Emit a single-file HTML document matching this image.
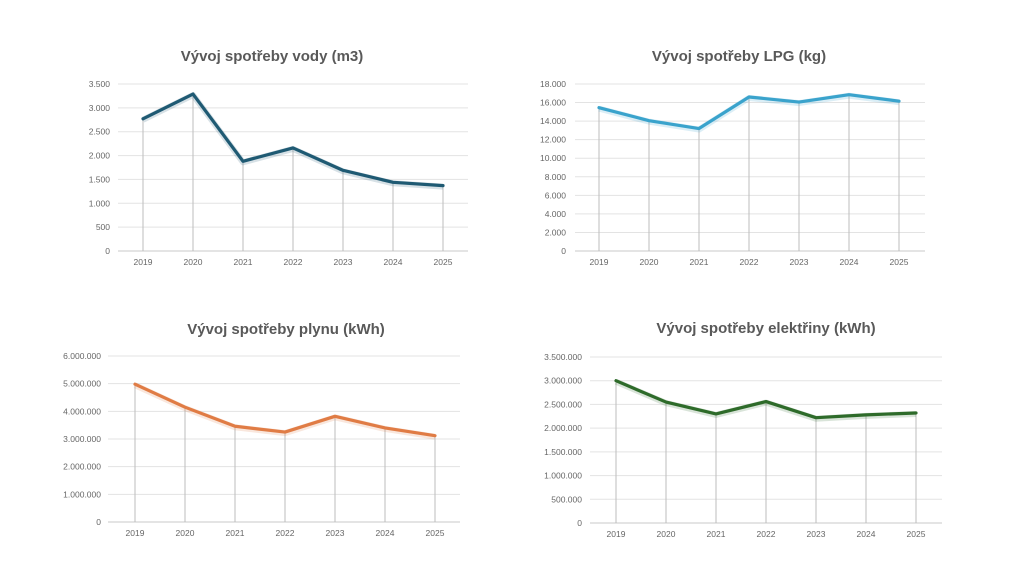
<!DOCTYPE html>
<html><head><meta charset="utf-8"><style>
html,body{margin:0;padding:0;background:#fff;}
svg{display:block;}
text{font-family:"Liberation Sans",sans-serif;}
</style></head><body>
<svg id="s" width="1024" height="576" xmlns="http://www.w3.org/2000/svg">
<text x="272" y="61" text-anchor="middle" font-size="15" font-weight="bold" fill="#595959">Vývoj spotřeby vody (m3)</text>
<text x="739" y="61" text-anchor="middle" font-size="15" font-weight="bold" fill="#595959">Vývoj spotřeby LPG (kg)</text>
<text x="286" y="334" text-anchor="middle" font-size="15" font-weight="bold" fill="#595959">Vývoj spotřeby plynu (kWh)</text>
<text x="766" y="333" text-anchor="middle" font-size="15" font-weight="bold" fill="#595959">Vývoj spotřeby elektřiny (kWh)</text>
</svg>
<script>
var s=document.getElementById('s'),NS='http://www.w3.org/2000/svg';
function el(t,a,txt){var e=document.createElementNS(NS,t);for(var k in a)e.setAttribute(k,a[k]);if(txt)e.textContent=txt;s.appendChild(e);return e;}
function fmt(v){return String(v).replace(/\B(?=(\d{3})+(?!\d))/g,'.');}
var charts=[
{gx0:118,gx1:468,x0:143,y0:251,yt:84,max:3500,step:500,lx:110,col:'#1f5a73',v:[2770,3290,1880,2160,1690,1440,1370]},
{gx0:575,gx1:925,x0:599,y0:251,yt:84,max:18000,step:2000,lx:566,col:'#3aa3cc',v:[15450,14050,13200,16600,16050,16850,16150]},
{gx0:108,gx1:460,x0:135,y0:522,yt:356,max:6000000,step:1000000,lx:101,col:'#e07c45',v:[4980000,4150000,3460000,3250000,3820000,3400000,3120000]},
{gx0:590,gx1:942,x0:616,y0:523,yt:357,max:3500000,step:500000,lx:582,col:'#2e6b2a',v:[3000000,2550000,2300000,2560000,2220000,2280000,2320000]}
];
charts.forEach(function(c){
 var sc=(c.y0-c.yt)/c.max;
 for(var v=0;v<=c.max;v+=c.step){var y=c.y0-v*sc;
  el('line',{x1:c.gx0,x2:c.gx1,y1:y,y2:y,stroke:v==0?'#c8c8c8':'#e3e3e3','stroke-width':1});
  el('text',{x:c.lx,y:y+3,'text-anchor':'end','font-size':8.5,fill:'#666'},fmt(v));}
 var pts=[];
 c.v.forEach(function(v,i){var x=c.x0+50*i,y=c.y0-v*sc;pts.push(x+','+y);
  el('line',{x1:x,x2:x,y1:y,y2:c.y0,stroke:'#bdbdbd','stroke-width':1});
  el('text',{x:x,y:c.y0+14,'text-anchor':'middle','font-size':8.5,fill:'#666'},String(2019+i));});
 el('polyline',{points:pts.join(' '),fill:'none',stroke:c.col,'stroke-opacity':0.18,'stroke-width':6,'stroke-linejoin':'round',transform:'translate(0,1)'});
 el('polyline',{points:pts.join(' '),fill:'none',stroke:c.col,'stroke-width':3.2,'stroke-linejoin':'round','stroke-linecap':'round'});
});
</script>
</body></html>
